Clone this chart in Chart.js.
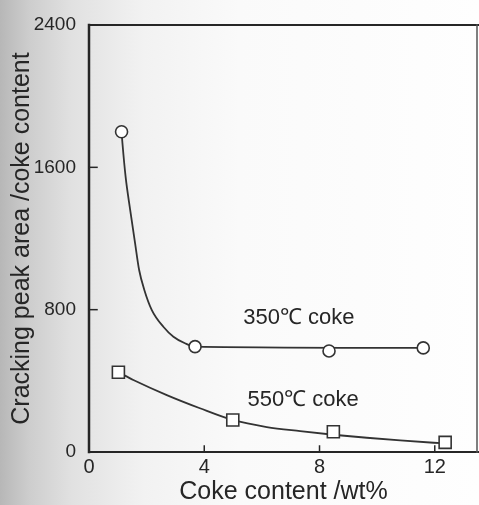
<!DOCTYPE html>
<html>
<head>
<meta charset="utf-8">
<script src="https://cdn.jsdelivr.net/npm/chart.js@4"></script>
<style>
  html, body { margin: 0; padding: 0; background: #fff; }
  canvas { display: block; }
</style>
</head>
<body>
<canvas id="chart" width="479" height="505"></canvas>
<script>
// Measured points (markers) for both cokes
const coke350X = [1.13, 3.68, 8.33, 11.6];
const coke350Y = [1800, 592, 568, 585];
const coke550X = [1.02, 4.99, 8.48, 12.36];
const coke550Y = [448, 180, 114, 54];

// Fitted curves
const curve350X = [1.13, 1.16, 1.27, 1.43, 1.60, 1.74, 1.92, 2.18, 2.58, 2.93, 3.33, 3.68, 11.6];
const curve350Y = [1800, 1737, 1548, 1360, 1173, 1023, 911, 798, 704, 648, 611, 592, 585];
const curve550X = [1.02, 1.54, 2.70, 3.85, 4.99, 6.17, 7.33, 8.48, 9.64, 10.8, 11.96, 12.36];
const curve550Y = [448, 405, 320, 246, 180, 140, 117, 97, 80, 65, 52, 48];

// In-plot labels
const labelText = ["350\u2103 coke", "550\u2103 coke"];
const labelX = [5.35, 5.5];
const labelY = [755, 290];

const xTitle = "Coke content /wt%";
const yTitle = "Cracking peak area /coke content";

const FONT = "'Liberation Sans', Arial, sans-serif";
const INK = "#262626";

function toPoints(xs, ys) {
    return xs.map((x, i) => ({ x: x, y: ys[i] }));
}

// no extra room for edge labels, the frame sits where the figure has it
function noEdgePadding(scale) {
    scale.paddingLeft = 0;
    scale.paddingRight = 0;
    scale.paddingTop = 0;
    scale.paddingBottom = 0;
}

// Scanned page look + frame + inward ticks + labels
const paperPlugin = {
    id: "paper",
    beforeDraw(chart) {
        const ctx = chart.ctx;
        const g = ctx.createLinearGradient(0, 0, chart.width, 0);
        g.addColorStop(0, "#b7b7b7");
        g.addColorStop(0.06, "#cdcdcd");
        g.addColorStop(0.15, "#e1e1e1");
        g.addColorStop(0.3, "#f2f2f2");
        g.addColorStop(0.5, "#fafafa");
        g.addColorStop(1, "#fefefe");
        ctx.save();
        ctx.fillStyle = g;
        ctx.fillRect(0, 0, chart.width, chart.height);
        ctx.restore();
    },
    beforeDatasetsDraw(chart) {
        const ctx = chart.ctx;
        const a = chart.chartArea;
        const xs = chart.scales.x;
        const ys = chart.scales.y;
        ctx.save();
        ctx.strokeStyle = INK;
        ctx.lineCap = "square";

        // frame
        ctx.lineWidth = 2;
        ctx.beginPath();
        ctx.moveTo(a.left, a.top);
        ctx.lineTo(a.right, a.top);
        ctx.stroke();
        ctx.beginPath();
        ctx.moveTo(a.left, a.bottom);
        ctx.lineTo(a.right, a.bottom);
        ctx.stroke();
        ctx.lineWidth = 2.5;
        ctx.beginPath();
        ctx.moveTo(a.left, a.top);
        ctx.lineTo(a.left, a.bottom);
        ctx.stroke();
        ctx.lineWidth = 1.5;
        ctx.strokeStyle = "#555";
        ctx.beginPath();
        ctx.moveTo(a.right - 1, a.top);
        ctx.lineTo(a.right - 1, a.bottom);
        ctx.stroke();

        // inward ticks
        ctx.strokeStyle = INK;
        ctx.lineWidth = 1.5;
        ys.ticks.forEach(t => {
            const py = ys.getPixelForValue(t.value);
            ctx.beginPath();
            ctx.moveTo(a.left, py);
            ctx.lineTo(a.left + 8, py);
            ctx.stroke();
        });
        xs.ticks.forEach(t => {
            const px = xs.getPixelForValue(t.value);
            ctx.beginPath();
            ctx.moveTo(px, a.bottom);
            ctx.lineTo(px, a.bottom - 6);
            ctx.stroke();
        });
        ctx.restore();
    },
    afterDatasetsDraw(chart) {
        const ctx = chart.ctx;
        const xs = chart.scales.x;
        const ys = chart.scales.y;
        ctx.save();
        ctx.fillStyle = INK;
        ctx.font = "22px " + FONT;
        ctx.textAlign = "left";
        ctx.textBaseline = "middle";
        labelText.forEach((txt, i) => {
            ctx.fillText(txt, xs.getPixelForValue(labelX[i]), ys.getPixelForValue(labelY[i]));
        });
        ctx.restore();
    }
};

Chart.defaults.font.family = FONT;
Chart.defaults.color = INK;

const markerStyle = {
    showLine: false,
    pointRadius: 6,
    pointBackgroundColor: "#ffffff",
    pointBorderColor: "#333333",
    pointBorderWidth: 1.6,
    pointHoverRadius: 6
};

const curveStyle = {
    showLine: true,
    pointRadius: 0,
    pointHoverRadius: 0,
    borderColor: "#333333",
    borderWidth: 1.8,
    cubicInterpolationMode: "monotone",
    fill: false
};

new Chart(document.getElementById("chart"), {
    type: "scatter",
    data: {
        datasets: [
            Object.assign({ label: "350 coke", data: toPoints(coke350X, coke350Y), pointStyle: "circle" }, markerStyle),
            Object.assign({ label: "550 coke", data: toPoints(coke550X, coke550Y), pointStyle: "rect" }, markerStyle, { pointRadius: 8.5, pointHoverRadius: 8.5 }),
            Object.assign({ label: "350 fit", data: toPoints(curve350X, curve350Y) }, curveStyle),
            Object.assign({ label: "550 fit", data: toPoints(curve550X, curve550Y) }, curveStyle)
        ]
    },
    options: {
        responsive: false,
        animation: false,
        devicePixelRatio: 1,
        layout: { autoPadding: false, padding: { top: 25, right: 1, left: 0, bottom: 0 } },
        plugins: {
            legend: { display: false },
            tooltip: { enabled: false }
        },
        scales: {
            x: {
                type: "linear",
                min: 0,
                max: 13.5,
                grid: { display: false, drawTicks: false, tickLength: 0 },
                border: { display: false },
                ticks: {
                    stepSize: 4,
                    includeBounds: false,
                    padding: 3,
                    color: INK,
                    font: { size: 20 },
                    maxRotation: 0,
                    callback: v => String(v)
                },
                title: {
                    display: true,
                    text: xTitle,
                    color: INK,
                    font: { size: 25, lineHeight: 1 },
                    padding: { top: 0, bottom: 0 }
                },
                afterFit(scale) {
                    scale.height = 53;
                    noEdgePadding(scale);
                }
            },
            y: {
                type: "linear",
                min: 0,
                max: 2400,
                grid: { display: false, drawTicks: false, tickLength: 0 },
                border: { display: false },
                ticks: {
                    stepSize: 800,
                    padding: 13,
                    color: INK,
                    font: { size: 19 },
                    callback: v => String(v)
                },
                title: {
                    display: true,
                    text: yTitle,
                    color: INK,
                    font: { size: 25, lineHeight: 1 },
                    padding: { top: 10, bottom: 0 }
                },
                afterFit(scale) {
                    scale.width = 89;
                    noEdgePadding(scale);
                }
            }
        }
    },
    plugins: [paperPlugin]
});
</script>
</body>
</html>
